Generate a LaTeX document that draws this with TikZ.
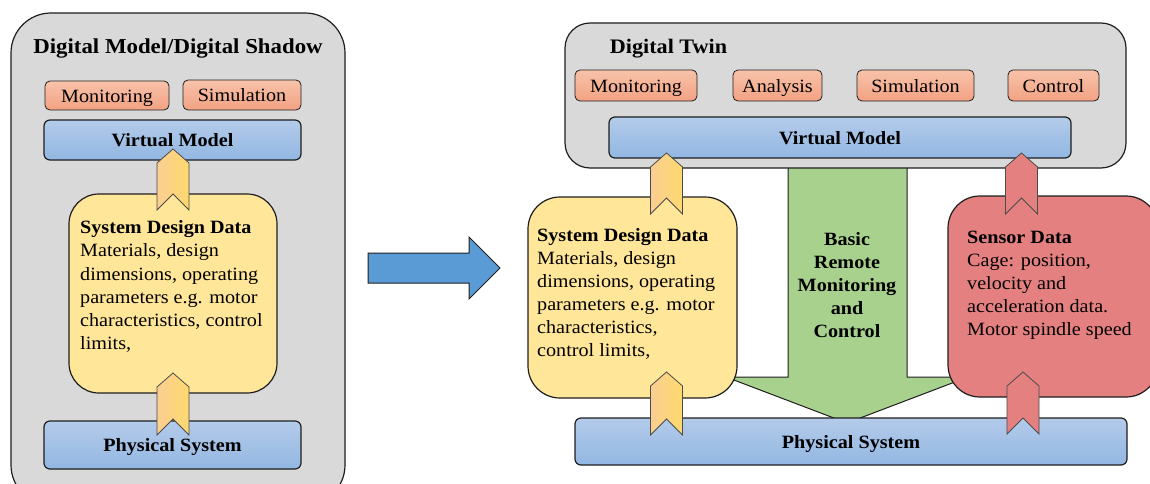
\documentclass[tikz,border=0pt]{standalone}
\usepackage{fontspec}
\setmainfont{Liberation Serif}[FakeStretch=1.075]
\usetikzlibrary{calc}
\definecolor{panelgray}{RGB}{217,217,217}
\definecolor{orgtop}{RGB}{248,194,170}
\definecolor{orgbot}{RGB}{242,162,130}
\definecolor{bluetop}{RGB}{180,203,234}
\definecolor{bluebot}{RGB}{146,183,226}
\definecolor{yelbox}{RGB}{255,230,153}
\definecolor{chevL}{RGB}{250,206,145}
\definecolor{chevR}{RGB}{255,217,110}
\definecolor{grn}{RGB}{169,209,142}
\definecolor{redbox}{RGB}{229,128,128}
\definecolor{arrblue}{RGB}{91,155,213}
\definecolor{edge}{RGB}{30,30,30}
\newcommand\chev[5]{%
  \draw[chevline, left color=#4, right color=#5]
    (#1,#2) -- (#1+16,#2+14) -- (#1+16,#3) -- (#1,#3-16) -- (#1-16,#3) -- (#1-16,#2+14) -- cycle;}
\tikzset{
  panel/.style={draw=edge, line width=1.2pt, fill=panelgray, rounded corners=#1},
  orgbox/.style={draw=edge, line width=0.8pt, top color=orgtop, bottom color=orgbot, rounded corners=5pt,
     font=\fontsize{18.75}{22}\selectfont, inner sep=0pt, text height=13.3pt, text depth=0pt},
  bluebox/.style={draw=edge, line width=1.2pt, top color=bluetop, bottom color=bluebot, rounded corners=6pt,
     font=\fontsize{18.75}{22}\selectfont\bfseries, inner sep=0pt, text height=13.3pt, text depth=0pt},
  bigbox/.style={draw=edge, line width=1.2pt, rounded corners=#1, inner sep=0pt},
  bodytext/.style={anchor=north west, align=left, inner sep=0pt, font=\fontsize{18.75}{23.2}\selectfont},
  titletext/.style={inner sep=0pt, font=\fontsize{21.25}{24}\selectfont\bfseries, text height=14.5pt, text depth=0pt},
  chevline/.style={draw=edge!80, line width=0.8pt, line join=miter},
  bigarrow/.style={draw=edge, line width=1pt, line join=miter},
}
\begin{document}
\begin{tikzpicture}[x=1pt,y=-1pt]
\useasboundingbox (0,0) rectangle (1150,484);
\clip (0,0) rectangle (1150,484);
% ---------------- left panel
\draw[panel=40pt] (11,13) rectangle (345,505);
\node[titletext] (title1) at (178,46) {Digital Model/Digital Shadow};
\node[orgbox, minimum width=124, minimum height=29] (mon1) at (107,95.5) {Monitoring};
\node[orgbox, minimum width=118, minimum height=30] (sim1) at (242,95) {Simulation};
\node[bluebox, minimum width=257, minimum height=40] (vm1) at (172.5,140) {Virtual Model};
\node[bigbox=30pt, fill=yelbox, minimum width=208, minimum height=199] (sdd1) at (173,293.5) {};
\node[bodytext] (sddt1) at (80,220.5) {\textbf{System Design Data}\\Materials, design\\dimensions, operating\\parameters e.g. motor\\characteristics, control\\limits,};
\node[bluebox, minimum width=257, minimum height=48] (ps1) at (172.5,445) {Physical System};
\chev{173}{149}{210}{chevL}{chevR}
\chev{173}{373}{435}{chevL}{chevR}
% ---------------- big blue arrow
\draw[bigarrow, fill=arrblue] (368,253) -- (469,253) -- (469,237) -- (500,268) -- (469,299) -- (469,283) -- (368,283) -- cycle;
% ---------------- right panel
\draw[bigarrow, fill=grn] (788,160) -- (788,377) -- (726,377) -- (847,423) -- (968,377) -- (907,377) -- (907,160);
\draw[panel=25pt] (565,23) rectangle (1126,168);
\node[titletext, font=\fontsize{20.6}{24}\selectfont\bfseries] (title2) at (668.5,46) {Digital Twin};
\node[orgbox, minimum width=122, minimum height=31] (mon2) at (636,85.5) {Monitoring};
\node[orgbox, minimum width=89, minimum height=31] (ana2) at (777.5,85.5) {Analysis};
\node[orgbox, minimum width=117, minimum height=31] (sim2) at (915.5,85.5) {Simulation};
\node[orgbox, minimum width=91, minimum height=31] (con2) at (1053.5,85.5) {Control};
\node[bluebox, minimum width=462, minimum height=41] (vm2) at (840,137.5) {Virtual Model};
\node[bodytext, font=\fontsize{18.75}{23}\selectfont\bfseries, align=center, anchor=north] (bas) at (847,232.5) {Basic\\Remote\\Monitoring\\and\\Control};
\node[bigbox=32pt, fill=yelbox, minimum width=209, minimum height=201] (sdd2) at (632.5,297.5) {};
\node[bodytext, font=\fontsize{18.75}{23}\selectfont] (sddt2) at (537,228.5) {\textbf{System Design Data}\\Materials, design\\dimensions, operating\\parameters e.g. motor\\characteristics,\\control limits,};
\node[bigbox=32pt, fill=redbox, minimum width=210, minimum height=201] (sens) at (1053,296.5) {};
\node[bodytext, font=\fontsize{18.75}{23}\selectfont] (senst) at (967,230.5) {\textbf{Sensor Data}\\Cage: position,\\velocity and\\acceleration data.\\Motor spindle speed};
\node[bluebox, minimum width=552, minimum height=47] (ps2) at (851,441.5) {Physical System};
\chev{666.5}{153}{214}{chevL}{chevR}
\chev{666.5}{372}{435}{chevL}{chevR}
\chev{1021.5}{153}{214}{redbox}{redbox}
\chev{1023}{372}{434}{redbox}{redbox}
\end{tikzpicture}
\end{document}
